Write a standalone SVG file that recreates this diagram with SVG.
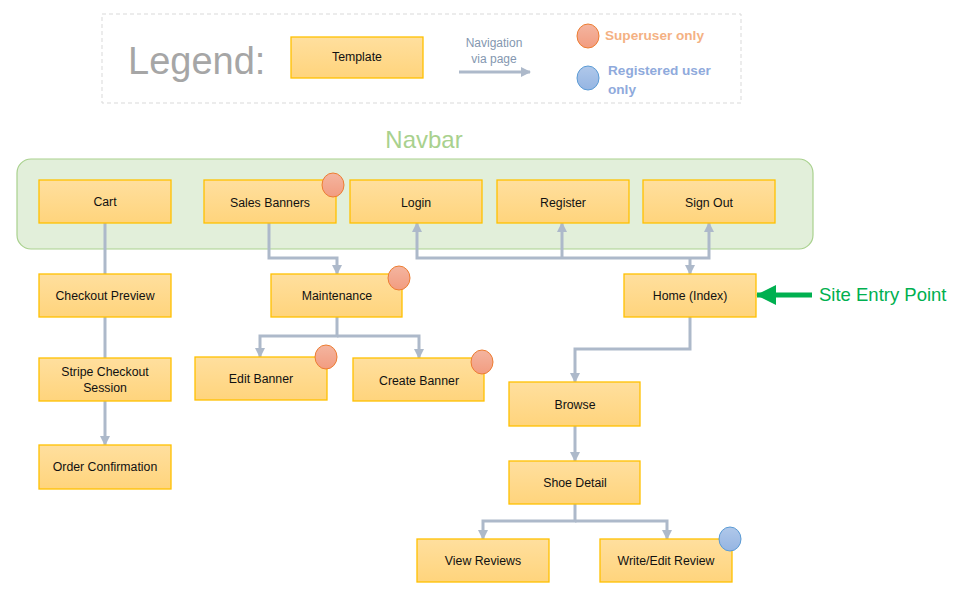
<svg xmlns="http://www.w3.org/2000/svg" width="971" height="602" viewBox="0 0 971 602">
<defs>
<linearGradient id="gbox" x1="0" y1="0" x2="0" y2="1">
<stop offset="0" stop-color="#ffdf9e"/>
<stop offset="1" stop-color="#ffd47c"/>
</linearGradient>
<linearGradient id="gor" x1="0" y1="0" x2="0" y2="1">
<stop offset="0" stop-color="#f4b5a0"/>
<stop offset="1" stop-color="#f29c80"/>
</linearGradient>
<linearGradient id="gbl" x1="0" y1="0" x2="0" y2="1">
<stop offset="0" stop-color="#b0c8ea"/>
<stop offset="1" stop-color="#95b5e2"/>
</linearGradient>
<marker id="ah" markerUnits="userSpaceOnUse" markerWidth="10" markerHeight="10" viewBox="0 0 10 10" refX="9" refY="5" orient="auto">
<path d="M0,0 L10,5 L0,10 Z" fill="#adb9ca"/>
</marker>
<marker id="ahg" markerUnits="userSpaceOnUse" markerWidth="20" markerHeight="20" viewBox="0 0 20 20" refX="19" refY="10" orient="auto">
<path d="M0,0 L20,10 L0,20 Z" fill="#00b050"/>
</marker>
</defs>
<style>
.box{fill:url(#gbox);stroke:#ffc000;stroke-width:1.3}
.lbl{font-family:"Liberation Sans",Arial,sans-serif;font-size:12.3px;fill:#111;text-anchor:middle}
.su{fill:url(#gor);stroke:#ed7d31;stroke-width:1}
.ru{fill:url(#gbl);stroke:#5b9bd5;stroke-width:1}
.cn{fill:none;stroke:#adb9ca;stroke-width:3}
</style>
<rect width="971" height="602" fill="#ffffff"/>

<g id="legend">
<rect x="102" y="14" width="639" height="89" fill="none" stroke="#d9d9d9" stroke-width="1" stroke-dasharray="4,3"/>
<text x="128" y="74" font-family="Liberation Sans,Arial,sans-serif" font-size="38" fill="#a6a6a6">Legend:</text>
<rect class="box" x="291" y="37" width="132" height="41"/>
<text class="lbl" x="357" y="61">Template</text>
<text x="494" y="47" font-family="Liberation Sans,Arial,sans-serif" font-size="12" fill="#8497b0" text-anchor="middle">Navigation</text>
<text x="494" y="63" font-family="Liberation Sans,Arial,sans-serif" font-size="12" fill="#8497b0" text-anchor="middle">via page</text>
<line x1="459" y1="72" x2="530" y2="72" class="cn" marker-end="url(#ah)"/>
<ellipse class="su" cx="588" cy="36" rx="11" ry="12"/>
<text x="605" y="40" font-family="Liberation Sans,Arial,sans-serif" font-size="13.6" font-weight="bold" fill="#f4b183">Superuser only</text>
<ellipse class="ru" cx="588" cy="78" rx="11" ry="12"/>
<text x="608" y="75" font-family="Liberation Sans,Arial,sans-serif" font-size="13.6" font-weight="bold" fill="#8faadc">Registered user</text>
<text x="608" y="94" font-family="Liberation Sans,Arial,sans-serif" font-size="13.6" font-weight="bold" fill="#8faadc">only</text>
</g>

<g id="navbar">
<rect x="17" y="159" width="796" height="90" rx="14" ry="14" fill="#e2efda" stroke="#a9d18e" stroke-width="1.2"/>
<text x="424" y="148" font-family="Liberation Sans,Arial,sans-serif" font-size="24" fill="#a9d18e" text-anchor="middle">Navbar</text>
</g>

<g id="connectors">
<line class="cn" x1="105" y1="223" x2="105" y2="274"/>
<line class="cn" x1="105" y1="317" x2="105" y2="358"/>
<line class="cn" x1="105" y1="401" x2="105" y2="445" marker-end="url(#ah)"/>
<polyline class="cn" points="269,223 269,258 337,258 337,274" marker-end="url(#ah)"/>
<polyline class="cn" points="337,317 337,336 260,336 260,357" marker-end="url(#ah)"/>
<polyline class="cn" points="337,336 419,336 419,358" marker-end="url(#ah)"/>
<polyline class="cn" points="690,258 417,258 417,223" marker-end="url(#ah)"/>
<line class="cn" x1="562" y1="258" x2="562" y2="223" marker-end="url(#ah)"/>
<polyline class="cn" points="690,258 709,258 709,223" marker-end="url(#ah)"/>
<line class="cn" x1="690" y1="257" x2="690" y2="274" marker-end="url(#ah)"/>
<polyline class="cn" points="690,317 690,349 575,349 575,382" marker-end="url(#ah)"/>
<line class="cn" x1="575" y1="426" x2="575" y2="461" marker-end="url(#ah)"/>
<polyline class="cn" points="575,504 575,521 483,521 483,539" marker-end="url(#ah)"/>
<polyline class="cn" points="575,521 667,521 667,539" marker-end="url(#ah)"/>
<line x1="812" y1="295" x2="757" y2="295" stroke="#00b050" stroke-width="5" marker-end="url(#ahg)"/>
</g>

<g id="site-entry">
<text x="819" y="301" font-family="Liberation Sans,Arial,sans-serif" font-size="18.5" fill="#00b050">Site Entry Point</text>
</g>

<g id="cart"><rect class="box" x="39" y="180" width="132" height="43"/><text class="lbl" x="105" y="206">Cart</text></g>
<g id="sales-banners"><rect class="box" x="204" y="180" width="132" height="43"/><text class="lbl" x="270" y="207">Sales Banners</text><ellipse class="su" cx="333" cy="185" rx="11" ry="12"/></g>
<g id="login"><rect class="box" x="350" y="180" width="132" height="43"/><text class="lbl" x="416" y="207">Login</text></g>
<g id="register"><rect class="box" x="497" y="180" width="132" height="43"/><text class="lbl" x="563" y="207">Register</text></g>
<g id="sign-out"><rect class="box" x="643" y="180" width="132" height="43"/><text class="lbl" x="709" y="207">Sign Out</text></g>
<g id="checkout-preview"><rect class="box" x="39" y="274" width="132" height="43"/><text class="lbl" x="105" y="300">Checkout Preview</text></g>
<g id="maintenance"><rect class="box" x="271" y="274" width="131" height="43"/><text class="lbl" x="337" y="300">Maintenance</text><ellipse class="su" cx="399" cy="278" rx="11" ry="12"/></g>
<g id="home"><rect class="box" x="624" y="274" width="132" height="43"/><text class="lbl" x="690" y="300">Home (Index)</text></g>
<g id="stripe"><rect class="box" x="39" y="358" width="132" height="43"/><text class="lbl" x="105" y="376">Stripe Checkout</text><text class="lbl" x="105" y="392">Session</text></g>
<g id="edit-banner"><rect class="box" x="195" y="357" width="132" height="43"/><text class="lbl" x="261" y="383">Edit Banner</text><ellipse class="su" cx="326" cy="357" rx="11" ry="12"/></g>
<g id="create-banner"><rect class="box" x="353" y="358" width="131" height="43"/><text class="lbl" x="419" y="385">Create Banner</text><ellipse class="su" cx="482" cy="362" rx="11" ry="12"/></g>
<g id="browse"><rect class="box" x="509" y="382" width="131" height="44"/><text class="lbl" x="575" y="409">Browse</text></g>
<g id="order-confirmation"><rect class="box" x="39" y="445" width="132" height="44"/><text class="lbl" x="105" y="471">Order Confirmation</text></g>
<g id="shoe-detail"><rect class="box" x="509" y="461" width="131" height="43"/><text class="lbl" x="575" y="487">Shoe Detail</text></g>
<g id="view-reviews"><rect class="box" x="417" y="539" width="132" height="43"/><text class="lbl" x="483" y="565">View Reviews</text></g>
<g id="write-review"><rect class="box" x="600" y="539" width="132" height="43"/><text class="lbl" x="666" y="565">Write/Edit Review</text><ellipse class="ru" cx="730" cy="539" rx="11" ry="12"/></g>
</svg>
